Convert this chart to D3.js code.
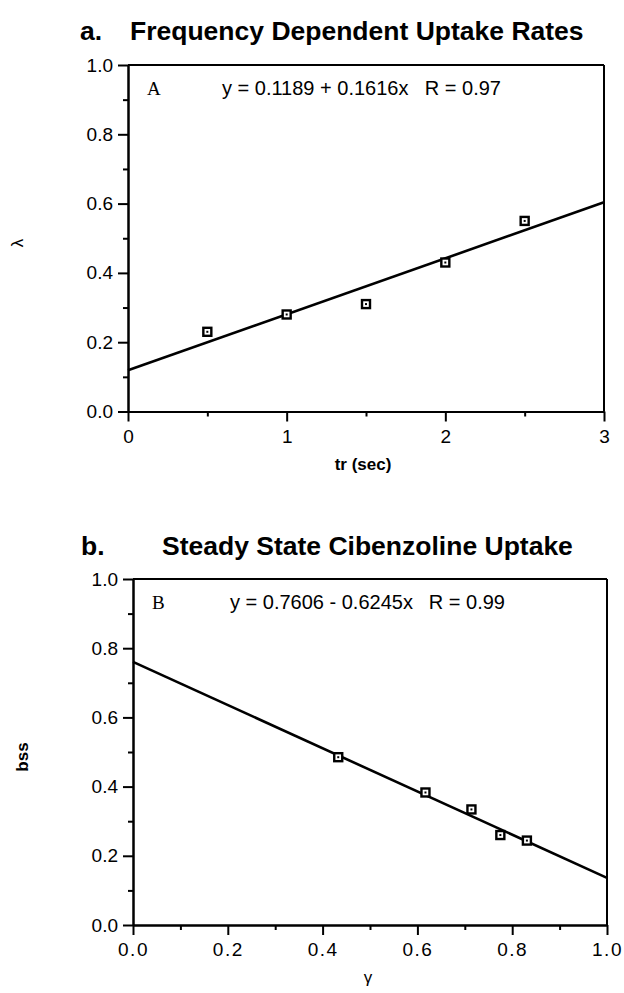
<!DOCTYPE html>
<html>
<head>
<meta charset="utf-8">
<script src="https://cdn.jsdelivr.net/npm/d3@7"></script>
<style>
  body { margin: 0; background: #fff; }
  svg { display: block; }
  .axis path, .axis line { stroke: #000; stroke-width: 2; }
  .axis text { font-family: "Liberation Sans", Arial, sans-serif; font-size: 19px; fill: #000; }
  .title { font-family: "Liberation Sans", Arial, sans-serif; font-weight: bold; font-size: 26.5px; }
  .eq { font-family: "Liberation Sans", Arial, sans-serif; font-size: 20px; }
  .tag { font-family: "Liberation Serif", "Times New Roman", serif; font-size: 19px; }
</style>
</head>
<body>
<div id="chart"></div>
<script>
// panel a: frequency dependent uptake
var trSec = [0.5, 1.0, 1.5, 2.0, 2.5];
var lambdaVals = [0.23, 0.28, 0.31, 0.43, 0.55];
var fitA = [0.1189, 0.1616];
var xTicksA = [0, 1, 2, 3];
var xMinorA = [0.5, 1.5, 2.5];

// panel b: steady state uptake
var gammaVals = [0.433, 0.617, 0.714, 0.775, 0.831];
var bssVals = [0.485, 0.383, 0.334, 0.260, 0.244];
var fitB = [0.7606, -0.6245];
var xTicksB = [0, 0.2, 0.4, 0.6, 0.8, 1.0];
var xMinorB = [0.1, 0.3, 0.5, 0.7, 0.9];

var yTicks = [0, 0.2, 0.4, 0.6, 0.8, 1.0];
var yMinor = [0.1, 0.3, 0.5, 0.7, 0.9];

var svg = d3.select("#chart")
  .append("svg")
  .attr("width", 624)
  .attr("height", 993);

function drawPanel(p) {
  var x = d3.scaleLinear().domain(p.xDomain).range([p.left, p.right]);
  var y = d3.scaleLinear().domain([0, 1]).range([p.bottom, p.top]);
  var g = svg.append("g");

  // frame on top and right
  g.append("line")
    .attr("x1", x(p.xDomain[0])).attr("x2", x(p.xDomain[1]))
    .attr("y1", y(1)).attr("y2", y(1))
    .attr("stroke", "#000").attr("stroke-width", 2);
  g.append("line")
    .attr("x1", x(p.xDomain[1])).attr("x2", x(p.xDomain[1]))
    .attr("y1", y(0)).attr("y2", y(1))
    .attr("stroke", "#000").attr("stroke-width", 2);

  // minor ticks
  g.append("g").attr("class", "axis")
    .attr("transform", "translate(" + p.left + ",0)")
    .call(d3.axisLeft(y).tickValues(yMinor).tickSize(5).tickSizeOuter(0).tickFormat(""));
  g.append("g").attr("class", "axis")
    .attr("transform", "translate(0," + p.bottom + ")")
    .call(d3.axisBottom(x).tickValues(p.xMinor).tickSize(5).tickSizeOuter(0).tickFormat(""));

  // major axes
  g.append("g").attr("class", "axis")
    .attr("transform", "translate(" + p.left + ",0)")
    .call(d3.axisLeft(y).tickValues(yTicks).tickSize(10).tickPadding(5)
      .tickSizeOuter(0).tickFormat(d3.format(".1f")));
  var xa = g.append("g").attr("class", "axis")
    .attr("transform", "translate(0," + p.bottom + ")")
    .call(d3.axisBottom(x).tickValues(p.xTicks).tickSize(10).tickPadding(8)
      .tickSizeOuter(0).tickFormat(p.xFormat));
  xa.selectAll("text").style("letter-spacing", p.xSpacing);

  // regression line
  g.append("line")
    .attr("x1", x(p.xDomain[0])).attr("y1", y(p.fit[0] + p.fit[1] * p.xDomain[0]))
    .attr("x2", x(p.xDomain[1])).attr("y2", y(p.fit[0] + p.fit[1] * p.xDomain[1]))
    .attr("stroke", "#000").attr("stroke-width", 2.6);

  // markers: square with a dot
  var pts = p.xs.map(function(d, i) { return [d, p.ys[i]]; });
  var m = g.selectAll(".pt").data(pts).enter().append("g")
    .attr("transform", function(d) { return "translate(" + x(d[0]) + "," + y(d[1]) + ")"; });
  m.append("rect")
    .attr("x", -4).attr("y", -4).attr("width", 8).attr("height", 8)
    .attr("fill", "#fff").attr("stroke", "#000").attr("stroke-width", 2.4);
  m.append("rect")
    .attr("x", -1).attr("y", -1).attr("width", 2).attr("height", 2)
    .attr("fill", "#000");

  // texts
  svg.append("text").attr("class", "title")
    .attr("x", p.tagX).attr("y", p.titleY).text(p.letter);
  svg.append("text").attr("class", "title")
    .attr("x", p.titleX).attr("y", p.titleY).text(p.title);
  svg.append("text").attr("class", "tag")
    .attr("x", p.left + 19).attr("y", p.top + 30).text(p.tag);
  svg.append("text").attr("class", "eq")
    .attr("x", p.eqX).attr("y", p.top + 30).text(p.eq);
  svg.append("text").attr("class", "eq")
    .attr("x", p.rX).attr("y", p.top + 30).attr("text-anchor", "end").text(p.r);

  svg.append("text")
    .attr("x", p.xLabX).attr("y", p.bottom + p.xLabDy)
    .attr("text-anchor", "middle")
    .style("font-family", "Liberation Sans, Arial, sans-serif")
    .style("font-size", "17px")
    .style("font-weight", p.xLabBold ? "bold" : "normal")
    .text(p.xLabel);
  svg.append("text")
    .attr("transform", "translate(" + p.yLabX + "," + p.yLabY + ") rotate(-90)")
    .attr("text-anchor", "middle")
    .attr("dy", "0.35em")
    .style("font-family", "Liberation Sans, Arial, sans-serif")
    .style("font-size", "17px")
    .style("font-weight", p.yLabBold ? "bold" : "normal")
    .text(p.yLabel);
}

drawPanel({
  left: 128, right: 604, top: 65, bottom: 411.5,
  xDomain: [0, 3], xTicks: xTicksA, xMinor: xMinorA, xFormat: d3.format("d"), xSpacing: "0px",
  xs: trSec, ys: lambdaVals, fit: fitA,
  letter: "a.", tagX: 80, titleX: 130, titleY: 40, title: "Frequency Dependent Uptake Rates",
  tag: "A", eq: "y = 0.1189 + 0.1616x", eqX: 222, r: "R = 0.97", rX: 501,
  xLabel: "tr (sec)", xLabX: 363, xLabDy: 58, xLabBold: true,
  yLabel: "λ", yLabX: 17, yLabY: 243, yLabBold: false
});

drawPanel({
  left: 133, right: 607, top: 579, bottom: 925,
  xDomain: [0, 1], xTicks: xTicksB, xMinor: xMinorB, xFormat: d3.format(".1f"), xSpacing: "1.5px",
  xs: gammaVals, ys: bssVals, fit: fitB,
  letter: "b.", tagX: 81, titleX: 162, titleY: 555, title: "Steady State Cibenzoline Uptake",
  tag: "B", eq: "y = 0.7606 - 0.6245x", eqX: 230, r: "R = 0.99", rX: 505,
  xLabel: "γ", xLabX: 368, xLabDy: 58, xLabBold: false,
  yLabel: "bss", yLabX: 22, yLabY: 757, yLabBold: true
});
</script>
</body>
</html>
